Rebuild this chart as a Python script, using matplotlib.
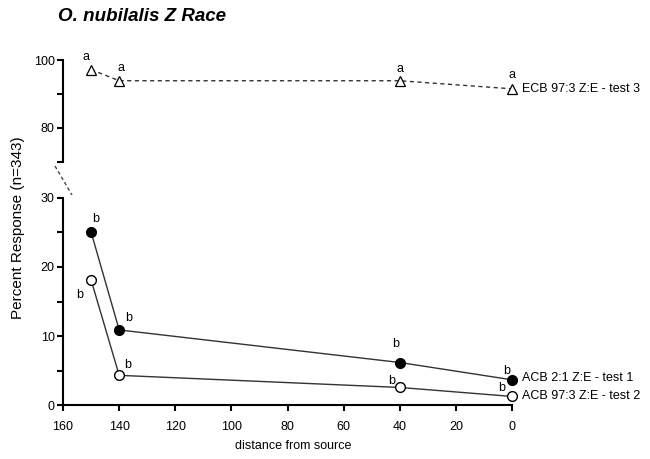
import matplotlib.pyplot as plt
from matplotlib.lines import Line2D

plt.rcParams["font.family"] = ["Liberation Sans", "DejaVu Sans"]

# data
distance = [150, 140, 40, 0]
test1 = [25.0, 10.9, 6.2, 3.7]     # ACB 2:1 Z:E, filled circles
test2 = [18.1, 4.35, 2.6, 1.3]     # ACB 97:3 Z:E, open circles
test3 = [97.3, 94.0, 94.0, 91.6]   # ECB 97:3 Z:E, triangles
test1_letters = ["b", "b", "b", "b"]
test2_letters = ["b", "b", "b", "b"]
test3_letters = ["a", "a", "a", "a"]
series_names = ["ACB 2:1 Z:E - test 1", "ACB 97:3 Z:E - test 2", "ECB 97:3 Z:E - test 3"]

# label offsets in pixels (dx, dy)
off1 = [(5, 13), (9, 12), (-4, 19), (-6, 9)]
off2 = [(-11, -15), (8, 10), (-8, 6), (-11, 8)]
off3 = [(-5, 13), (2, 13), (0, 12), (0, 14)]

fig = plt.figure(figsize=(6.5, 4.59), dpi=100)
ax_lo = fig.add_axes([0.097, 0.1166, 0.691, 0.453])
ax_hi = fig.add_axes([0.097, 0.6477, 0.691, 0.2205])

line_c = "#333333"

ax_lo.plot(distance, test1, color=line_c, lw=1, marker="o", ms=7,
           mfc="black", mec="black", clip_on=False, zorder=3)
ax_lo.plot(distance, test2, color=line_c, lw=1, marker="o", ms=7,
           mfc="white", mec="black", mew=1.0, clip_on=False, zorder=3)
ax_hi.plot(distance, test3, color=line_c, lw=1, ls=(0, (3, 2.5)), marker="^", ms=7,
           mfc="white", mec="black", mew=0.9, clip_on=False, zorder=3)

for ax, ys, letters, offs in [(ax_lo, test1, test1_letters, off1),
                              (ax_lo, test2, test2_letters, off2),
                              (ax_hi, test3, test3_letters, off3)]:
    for x, y, s, (dx, dy) in zip(distance, ys, letters, offs):
        ax.annotate(s, (x, y), xytext=(dx, dy), textcoords="offset pixels",
                    ha="center", va="center", fontsize=9, annotation_clip=False)

# series labels to the right of the last point
ax_lo.annotate(series_names[0], (distance[-1], test1[-1]), xytext=(10, 2),
               textcoords="offset pixels", ha="left", va="center", fontsize=9,
               annotation_clip=False)
ax_lo.annotate(series_names[1], (distance[-1], test2[-1]), xytext=(10, 0),
               textcoords="offset pixels", ha="left", va="center", fontsize=9,
               annotation_clip=False)
ax_hi.annotate(series_names[2], (distance[-1], test3[-1]), xytext=(10, 0),
               textcoords="offset pixels", ha="left", va="center", fontsize=9,
               annotation_clip=False)

for ax in (ax_lo, ax_hi):
    ax.set_xlim(160, 0)
    for s in ("top", "right"):
        ax.spines[s].set_visible(False)
    ax.spines["left"].set_linewidth(1.5)
    ax.tick_params(direction="out", width=1.5, length=4, labelsize=9, pad=2)
    ax.tick_params(which="minor", direction="out", width=1.5, length=4)

ax_lo.set_ylim(0, 30)
ax_lo.set_yticks([0, 10, 20, 30])
ax_lo.set_yticks([5, 15, 25], minor=True)
ax_lo.set_xticks(range(0, 161, 20))
ax_lo.tick_params(axis="x", pad=7)
ax_lo.spines["bottom"].set_linewidth(1.5)
ax_lo.set_xlabel("distance from source", fontsize=9)
ax_lo.xaxis.set_label_coords(0.513, -0.168)

ax_hi.set_ylim(70, 100)
ax_hi.set_yticks([80, 100])
ax_hi.set_yticks([70, 90], minor=True)
ax_hi.spines["bottom"].set_visible(False)
ax_hi.set_xticks([])
ax_hi.patch.set_visible(False)

# axis break mark
fig.add_artist(Line2D([55 / 650, 72 / 650], [1 - 166 / 459, 1 - 195 / 459],
                      color="#444444", lw=1, ls=(0, (2.5, 2))))

fig.text(0.027, 0.505, "Percent Response (n=343)", rotation=90, ha="center",
         va="center", fontsize=11)
fig.text(0.089, 0.965, "O. nubilalis Z Race", fontsize=13.5, fontweight="bold",
         fontstyle="italic", ha="left", va="center")

fig.savefig("out.png", dpi=100)
